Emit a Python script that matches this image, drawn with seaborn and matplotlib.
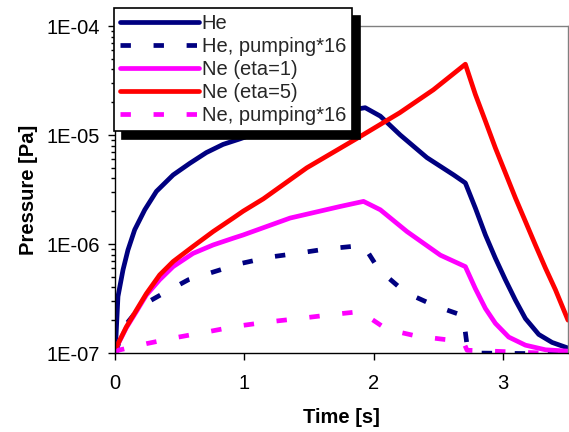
import numpy as np
import pandas as pd
import matplotlib
matplotlib.use("Agg")
import matplotlib.pyplot as plt
from matplotlib.ticker import FixedLocator, FuncFormatter, LogLocator, NullFormatter
import seaborn as sns

# Set plot style
sns.set_theme(style="ticks")
plt.rcParams['font.family'] = ['Liberation Sans', 'DejaVu Sans']

# Data (time in s, pressure in Pa)
he_t = [0, 0.005, 0.023, 0.062, 0.10, 0.152, 0.23, 0.32, 0.449, 0.578, 0.706, 0.835, 0.964,
        1.2, 1.45, 1.7, 1.933, 2.05, 2.204, 2.41, 2.617, 2.707, 2.784, 2.862, 2.939, 3.016,
        3.094, 3.171, 3.274, 3.377, 3.5]
he_p = [1e-7, 1.22e-7, 3.3e-7, 5.8e-7, 8.8e-7, 1.35e-6, 2.06e-6, 3.04e-6, 4.3e-6, 5.5e-6, 6.9e-6, 8.2e-6,
        9.2e-6, 1.15e-5, 1.38e-5, 1.6e-5, 1.78e-5, 1.49e-5, 1.0e-5, 6.2e-6, 4.3e-6, 3.63e-6, 2.14e-6,
        1.21e-6, 7.4e-7, 4.7e-7, 3.05e-7, 2.07e-7, 1.48e-7, 1.25e-7, 1.11e-7]

he_pump_t = [0, 0.09, 0.2, 0.387, 0.567, 0.773, 0.966, 1.2, 1.405, 1.63, 1.87, 1.92,
             2.04, 2.243, 2.475, 2.69, 2.72, 2.75, 3.5]
he_pump_p = [1e-7, 1.86e-7, 2.7e-7, 3.6e-7, 4.7e-7, 5.6e-7, 6.6e-7, 7.6e-7, 8.2e-7, 9.0e-7, 9.6e-7, 9.7e-7,
             5.8e-7, 3.6e-7, 2.7e-7, 2.2e-7, 1.18e-7, 1.0e-7, 0.98e-7]

ne1_t = [0, 0.01, 0.087, 0.165, 0.242, 0.345, 0.449, 0.603, 0.758, 0.913, 0.99, 1.353, 1.74,
         1.92, 2.05, 2.256, 2.514, 2.707, 2.784, 2.862, 2.939, 3.042, 3.171, 3.326, 3.5]
ne1_p = [1e-7, 1.12e-7, 1.7e-7, 2.4e-7, 3.4e-7, 4.7e-7, 6.2e-7, 8.2e-7, 9.8e-7, 1.13e-6, 1.21e-6, 1.73e-6,
         2.21e-6, 2.46e-6, 2.06e-6, 1.3e-6, 7.9e-7, 6.2e-7, 3.9e-7, 2.56e-7, 1.87e-7, 1.4e-7, 1.18e-7,
         1.07e-7, 1.04e-7]

ne5_t = [0, 0.01, 0.087, 0.165, 0.242, 0.345, 0.449, 0.603, 0.758, 0.913, 0.99, 1.147, 1.482,
         1.895, 2.2, 2.46, 2.707, 2.784, 2.862, 2.939, 3.016, 3.094, 3.171, 3.248, 3.326, 3.403, 3.5]
ne5_p = [1e-7, 1.13e-7, 1.73e-7, 2.47e-7, 3.5e-7, 5.2e-7, 6.9e-7, 9.5e-7, 1.3e-6, 1.73e-6, 2.0e-6, 2.6e-6,
         5.0e-6, 9.7e-6, 1.6e-5, 2.6e-5, 4.46e-5, 2.36e-5, 1.34e-5, 7.6e-6, 4.5e-6, 2.64e-6, 1.61e-6,
         9.8e-7, 6.0e-7, 3.8e-7, 2.0e-7]

ne_pump_t = [0, 0.026, 0.245, 0.477, 0.709, 0.94, 1.186, 1.42, 1.66, 1.895, 2.10, 2.33,
             2.55, 2.69, 2.72, 3.5]
ne_pump_p = [1e-7, 1.06e-7, 1.22e-7, 1.39e-7, 1.56e-7, 1.76e-7, 1.93e-7, 2.07e-7, 2.24e-7, 2.4e-7, 1.65e-7,
             1.43e-7, 1.33e-7, 1.28e-7, 1.06e-7, 0.98e-7]

y_ticks = [1e-7, 1e-6, 1e-5, 1e-4]
x_ticks = [0, 1, 2, 3]

series = [
    ("He", he_t, he_p, "#000080", "-"),
    ("He, pumping*16", he_pump_t, he_pump_p, "#000080", (0, (2.2, 4.8))),
    ("Ne (eta=1)", ne1_t, ne1_p, "#FF00FF", "-"),
    ("Ne (eta=5)", ne5_t, ne5_p, "#FF0000", "-"),
    ("Ne, pumping*16", ne_pump_t, ne_pump_p, "#FF00FF", (0, (2.2, 4.8))),
]

fig = plt.figure(figsize=(5.69, 4.32), dpi=100)
ax = fig.add_axes([115 / 569, 1 - 353 / 432, (568 - 115) / 569, (353 - 26) / 432])

for name, t, p, col, ls in series:
    df = pd.DataFrame({"t": t, "p": p})
    sns.lineplot(data=df, x="t", y="p", ax=ax, color=col, linestyle=ls, lw=3.4,
                 label=name, sort=False, estimator=None)

ax.set_yscale("log")
ax.set_xlim(0, 3.5)
ax.set_ylim(1e-7, 1e-4)
ax.yaxis.set_major_locator(FixedLocator(y_ticks))
ax.yaxis.set_major_formatter(FuncFormatter(lambda v, pos: f"{v:.0E}"))
ax.yaxis.set_minor_locator(LogLocator(base=10, subs=np.arange(2, 10)))
ax.yaxis.set_minor_formatter(NullFormatter())
ax.set_xticks(x_ticks)
ax.set_xticklabels([str(x) for x in x_ticks])

ax.tick_params(axis="both", which="major", direction="out", length=5, width=1,
               color="black", labelsize=14.5, labelcolor="black", pad=6)
ax.tick_params(axis="x", which="major", pad=10)
ax.tick_params(axis="y", which="minor", direction="out", length=3, width=1, color="black")

for side in ["left", "bottom"]:
    ax.spines[side].set_color("black")
    ax.spines[side].set_linewidth(1)
for side in ["top", "right"]:
    ax.spines[side].set_color("#808080")
    ax.spines[side].set_linewidth(1)

ax.set_xlabel("Time [s]", fontsize=14.5, fontweight="bold", color="black", labelpad=11)
ax.set_ylabel("Pressure [Pa]", fontsize=14.5, fontweight="bold", color="black", labelpad=6)
ax.set_facecolor("white")
ax.grid(False)

handles, labels = ax.get_legend_handles_labels()
leg = ax.legend(handles, labels, loc="upper left",
                bbox_to_anchor=(114 / 569, 1 - 8 / 432), bbox_transform=fig.transFigure,
                borderaxespad=0, fontsize=14.5, frameon=True, fancybox=False,
                handlelength=3.9, handletextpad=0.15, labelspacing=0.2, borderpad=0.3,
                shadow={"ox": 5.5, "oy": -5.5, "facecolor": "black", "edgecolor": "black", "alpha": 1})
leg.get_frame().set_edgecolor("black")
leg.get_frame().set_linewidth(1.2)
leg.get_frame().set_alpha(1)

fig.savefig("out.png", dpi=100, facecolor="white")
